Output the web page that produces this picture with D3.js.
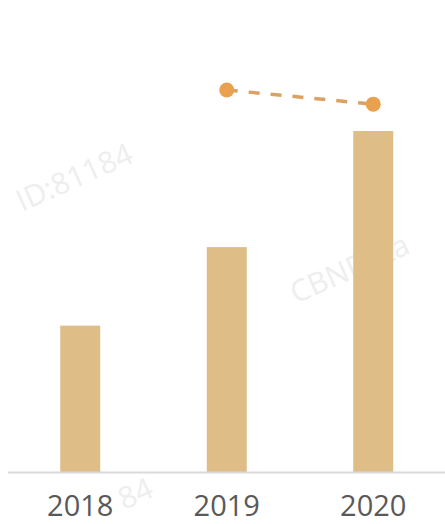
<!DOCTYPE html>
<html><head><meta charset="utf-8">
<script src="https://cdn.jsdelivr.net/npm/d3@7"></script>
<style>body{margin:0;background:#fff}svg{display:block}</style>
</head><body>
<svg id="c" width="445" height="524"></svg>
<script>
const categories = ["2018", "2019", "2020"];
const barValues = [43, 66, 100];
const lineCategories = ["2019", "2020"];
const lineValues = [54, 52];

const W = 445, H = 524;
const svg = d3.select("#c");

// watermarks
const wm = svg.append("g").attr("fill", "#eeeeee").attr("font-family", "Open Sans, sans-serif").attr("font-size", 30);
wm.append("text").attr("transform", "translate(22,212) rotate(-24)").text("ID:81184");
wm.append("text").attr("transform", "translate(296,304) rotate(-24)").text("CBNData");
wm.append("text").attr("transform", "translate(124,510) rotate(-24)").text("84");

const x = d3.scaleBand().domain(categories).range([7, 446.5]).paddingInner(0.727).paddingOuter(0.3635);
const y = d3.scaleLinear().domain([0, 100]).range([472.5, 131]);
const y2 = d3.scaleLinear().domain([0, 54]).range([472.5, 90]);

svg.append("g").selectAll("rect").data(categories).join("rect")
  .attr("x", d => x(d)).attr("width", x.bandwidth())
  .attr("y", (d, i) => y(barValues[i])).attr("height", (d, i) => y(0) - y(barValues[i]))
  .attr("fill", "#dfbd87");

const axis = svg.append("g").attr("transform", `translate(0,${y(0)})`)
  .call(d3.axisBottom(x).tickSize(0).tickPadding(23));
axis.select(".domain").attr("stroke", "#d9d9d9").attr("stroke-width", 2).attr("d", "M8,0H445");
axis.selectAll("text").attr("font-family", "Open Sans, sans-serif").attr("font-size", 29).attr("fill", "#595959");

const cx = d => x(d) + x.bandwidth() / 2;
const line = d3.line().x((d, i) => cx(lineCategories[i])).y(d => y2(d));
svg.append("path").datum(lineValues).attr("d", line).attr("fill", "none")
  .attr("stroke", "#d9a264").attr("stroke-width", 3.5).attr("stroke-dasharray", "11,11");
svg.append("g").selectAll("circle").data(lineValues).join("circle")
  .attr("cx", (d, i) => cx(lineCategories[i])).attr("cy", d => y2(d)).attr("r", 7.5)
  .attr("fill", "#e9a14d");
</script>
</body></html>
